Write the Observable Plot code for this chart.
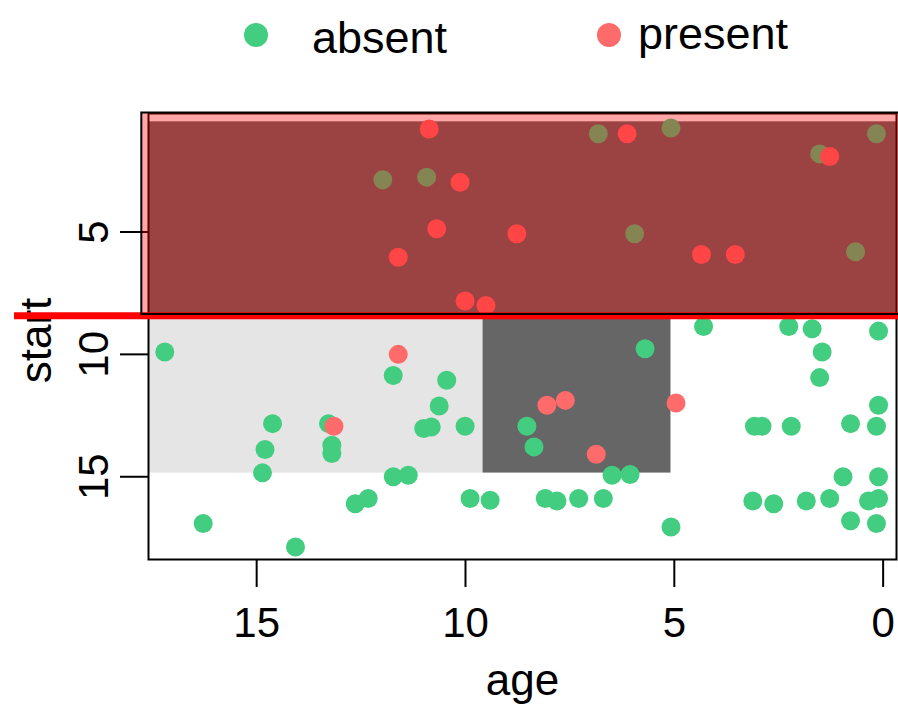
<!DOCTYPE html>
<html><head><meta charset="utf-8">
<script src="https://cdn.jsdelivr.net/npm/d3@7"></script>
<script src="https://cdn.jsdelivr.net/npm/@observablehq/plot@0.6"></script>
<style>
body{margin:0;background:#fff;font-family:"Liberation Sans",Arial,sans-serif;}
#wrap{position:relative;width:898px;height:705px;overflow:hidden;background:#fff}
#legend{position:relative;height:80px;width:898px}
.ld{position:absolute;border-radius:50%}
.lt{position:absolute;font-size:45px;line-height:45px;white-space:nowrap;color:#000}
svg{display:block}
</style></head><body>
<div id="wrap"><div id="legend"></div><div id="chart"></div></div>
<script>
// ---- data (age in years, start vertebra) ----
const age = [
 10.87,11.98,10.93,10.13,10.69,8.77,11.61,10.01,9.51,6.82,6.13,5.08,0.16,1.52,1.28,5.95,4.35,3.54,0.66,
 17.2,11.61,11.73,10.45,10.63,11.0,10.82,10.01,14.62,13.28,13.15,13.2,13.2,14.8,14.86,11.73,11.37,12.64,12.33,9.89,9.41,16.28,14.07,
 4.3,2.26,1.70,0.11,1.46,1.52,5.7,8.05,7.61,4.96,8.53,8.36,6.87,6.49,6.06,8.09,7.81,7.29,6.7,5.08,3.08,2.9,2.2,0.78,0.11,0.16,0.96,0.11,3.12,2.62,1.84,1.28,0.35,0.11,0.78,0.16
];
const start = [
 0.79,2.87,2.76,2.97,4.87,5.07,6.03,7.82,8.00,0.99,0.99,0.75,0.99,1.81,1.92,5.07,5.92,5.92,5.81,
 9.9,10.0,10.86,11.06,12.11,13.03,12.97,12.94,12.83,12.83,12.94,13.71,14.05,13.89,14.84,15.0,14.94,16.1,15.89,15.89,15.96,16.91,17.87,
 8.86,8.86,8.95,9.05,9.9,10.95,9.77,12.08,11.88,11.99,12.94,13.78,14.08,14.94,14.91,15.89,15.99,15.89,15.89,17.05,12.94,12.94,12.94,12.83,12.08,12.94,15.0,15.0,15.99,16.1,15.99,15.89,15.99,15.89,16.8,16.91
];
const kyphosis = [
 "present","absent","absent","present","present","present","present","present","present","absent","present","absent","absent","absent","present","absent","present","present","absent",
 "absent","present","absent","absent","absent","absent","absent","absent","absent","absent","present","absent","absent","absent","absent","absent","absent","absent","absent","absent","absent","absent","absent",
 "absent","absent","absent","absent","absent","absent","absent","present","present","present","absent","absent","present","absent","absent","absent","absent","absent","absent","absent","absent","absent","absent","absent","absent","absent","absent","absent","absent","absent","absent","absent","absent","absent","absent","absent"
];
const classes = ["absent","present"];
const xTicks = [0,5,10,15];
const yTicks = [5,10,15];
// partition regions of the tree
const regionClass   = ["present","absent","present"];
const regionAgeLo   = [-0.32, 9.58, 5.08];
const regionAgeHi   = [17.59, 17.59, 9.58];
const regionStartLo = [0.5, 8.45, 8.45];
const regionStartHi = [8.45, 14.85, 14.85];
// highlighted split
const splitStart = [8.42];
const highlightAge = [-0.6, 17.75];
const highlightStart = [0.14, 8.37];

// ---- build ----
const colorOf = {absent:"#43CD80", present:"#FF6A6A"};
const shadeOf = {absent:"#e5e5e5", present:"#666666"};
const pts = age.map((a,i)=>({age:a, start:start[i], kyphosis:kyphosis[i]}));
const regions = regionClass.map((c,i)=>({x1:regionAgeLo[i], x2:regionAgeHi[i], y1:regionStartLo[i], y2:regionStartHi[i], cls:c}));
const hl = [{x1:highlightAge[0], x2:highlightAge[1], y1:highlightStart[0], y2:highlightStart[1]}];

const chart = Plot.plot({
  width:898, height:625,
  marginLeft:148, marginRight:2, marginTop:33, marginBottom:146,
  style:{fontFamily:'"Liberation Sans", Arial, sans-serif', fontSize:"42px", background:"white", color:"black", overflow:"visible"},
  x:{domain:[17.59,-0.32], label:null},
  y:{domain:[0.16,18.38], reverse:true, label:null},
  marks:[
    Plot.rect(regions,{x1:"x1",x2:"x2",y1:"y1",y2:"y2",fill:d=>shadeOf[d.cls]}),
    Plot.frame({stroke:"black", strokeWidth:2}),
    Plot.dot(pts,{x:"age", y:"start", r:9.5, fill:d=>colorOf[d.kyphosis], stroke:null}),
    Plot.axisX({ticks:xTicks, tickSize:28, tickPadding:20, label:null, fontSize:42, strokeWidth:2}),
    Plot.axisY({ticks:yTicks, tickSize:28, tickFormat:()=>"", label:null, strokeWidth:2}),
    Plot.text(yTicks,{y:d=>d, text:d=>String(d), frameAnchor:"left", rotate:-90, textAnchor:"middle", lineAnchor:"bottom", dx:-41, fontSize:42}),
    Plot.text(["start"],{text:d=>d, frameAnchor:"left", rotate:-90, textAnchor:"middle", lineAnchor:"bottom", dx:-98, dy:4, fontSize:44}),
    Plot.text(["age"],{text:d=>d, frameAnchor:"bottom", lineAnchor:"bottom", dy:135, fontSize:44}),
    Plot.ruleY(splitStart,{stroke:"red", strokeWidth:7, insetLeft:-134, insetRight:-2}),
    Plot.rect(hl,{x1:"x1",x2:"x2",y1:"y1",y2:"y2", fill:"red", fillOpacity:0.35, stroke:"black", strokeWidth:2})
  ]
});
document.getElementById("chart").appendChild(chart);

// ---- legend ----
const legend = document.getElementById("legend");
const legendPos = {absent:{cx:256, cy:34.5, tx:312, ty:15}, present:{cx:609, cy:35, tx:638, ty:10.5}};
classes.forEach(c=>{
  const p = legendPos[c];
  const d = document.createElement("div");
  d.className="ld"; d.style.width="24px"; d.style.height="24px";
  d.style.left=(p.cx-12)+"px"; d.style.top=(p.cy-12)+"px"; d.style.background=colorOf[c];
  legend.appendChild(d);
  const t = document.createElement("div");
  t.className="lt"; t.textContent=c; t.style.left=p.tx+"px"; t.style.top=p.ty+"px";
  legend.appendChild(t);
});
</script>
</body></html>
